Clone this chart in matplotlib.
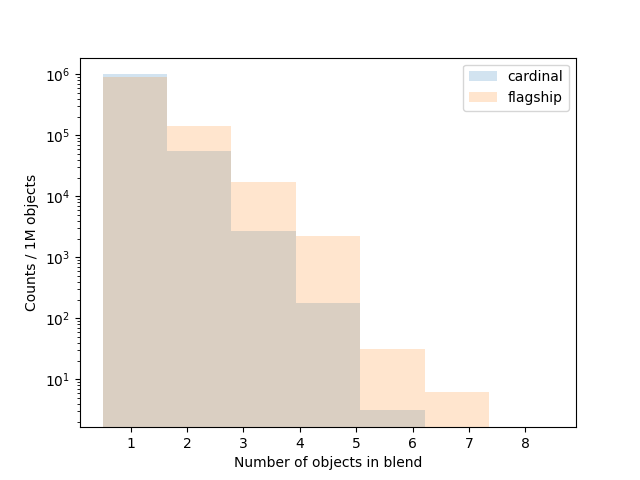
import numpy as np
import matplotlib
matplotlib.use("Agg")
import matplotlib.pyplot as plt

# counts per 1M objects in each of the 7 histogram bins (0.5 .. 8.5)
cardinal = [1.0e6, 5.47e4, 2.67e3, 176, 3.1, 0, 0]
flagship = [8.9e5, 1.4e5, 1.7e4, 2.2e3, 31, 6.1, 0]

bins = np.linspace(0.5, 8.5, 8)
centres = (bins[:-1] + bins[1:]) / 2

fig, ax = plt.subplots(figsize=(6.4, 4.8), dpi=100)
ax.hist(centres, bins=bins, weights=cardinal, alpha=0.2, log=True, label="cardinal")
ax.hist(centres, bins=bins, weights=flagship, alpha=0.2, log=True, label="flagship")
ax.set_xticks(range(1, 9))
ax.set_xlabel("Number of objects in blend")
ax.set_ylabel("Counts / 1M objects")
ax.legend()
fig.savefig("out.png")
